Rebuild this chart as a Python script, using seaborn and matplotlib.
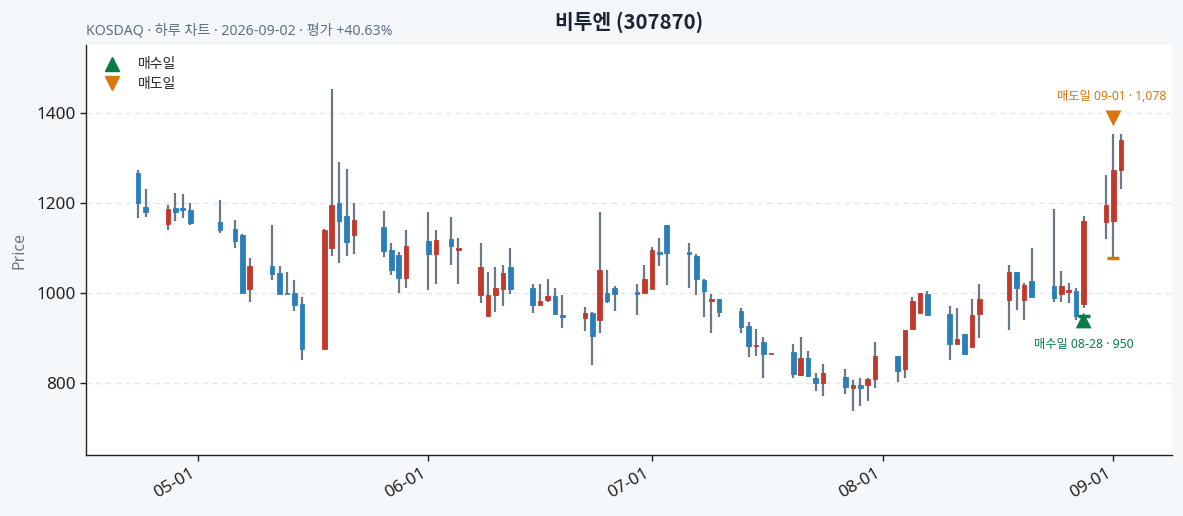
import numpy as np
import pandas as pd
import matplotlib
matplotlib.use("Agg")
import matplotlib.pyplot as plt
import matplotlib.dates as mdates
from matplotlib.lines import Line2D
import seaborn as sns

# ---------------- data ----------------
dates = [
    "2026-04-23", "2026-04-24", "2026-04-27", "2026-04-28", "2026-04-29", "2026-04-30",
    "2026-05-04", "2026-05-06", "2026-05-07", "2026-05-08", "2026-05-11", "2026-05-12",
    "2026-05-13", "2026-05-14", "2026-05-15", "2026-05-18", "2026-05-19", "2026-05-20",
    "2026-05-21", "2026-05-22", "2026-05-26", "2026-05-27", "2026-05-28", "2026-05-29",
    "2026-06-01", "2026-06-02", "2026-06-04", "2026-06-05", "2026-06-08", "2026-06-09",
    "2026-06-10", "2026-06-11", "2026-06-12", "2026-06-15", "2026-06-16", "2026-06-17",
    "2026-06-18", "2026-06-19", "2026-06-22", "2026-06-23", "2026-06-24", "2026-06-25",
    "2026-06-26", "2026-06-29", "2026-06-30", "2026-07-01", "2026-07-02", "2026-07-03",
    "2026-07-06", "2026-07-07", "2026-07-08", "2026-07-09", "2026-07-10", "2026-07-13",
    "2026-07-14", "2026-07-15", "2026-07-16", "2026-07-17", "2026-07-20", "2026-07-21",
    "2026-07-22", "2026-07-23", "2026-07-24", "2026-07-27", "2026-07-28", "2026-07-29",
    "2026-07-30", "2026-07-31", "2026-08-03", "2026-08-04", "2026-08-05", "2026-08-06",
    "2026-08-07", "2026-08-10", "2026-08-11", "2026-08-12", "2026-08-13", "2026-08-14",
    "2026-08-18", "2026-08-19", "2026-08-20", "2026-08-21", "2026-08-24", "2026-08-25",
    "2026-08-26", "2026-08-27", "2026-08-28", "2026-08-31", "2026-09-01", "2026-09-02",
]
open_ = [1268, 1192, 1155, 1190, 1190, 1185,
         1158, 1143, 1130, 1010, 1061, 1046,
         1001, 1000, 976, 877, 1101, 1202,
         1172, 1130, 1147, 1096, 1085, 1035,
         1116, 1088, 1121, 1097, 997, 950,
         997, 1010, 1058, 1012, 975, 986,
         994, 952, 946, 956, 941, 1000,
         1013, 1003, 1002, 1010, 1092, 1152,
         1092, 1083, 1030, 984, 988, 961,
         927, 884, 891, 866, 869, 818,
         856, 812, 801, 814, 790, 796,
         797, 809, 860, 833, 921, 957,
         998, 954, 887, 910, 882, 955,
         986, 1048, 986, 1027, 1016, 999,
         1004, 1005, 976, 1159, 1161, 1275]
high = [1275, 1233, 1196, 1224, 1222, 1202,
        1207, 1164, 1131, 1078, 1153, 1062,
        1047, 1029, 993, 1143, 1455, 1291,
        1276, 1202, 1184, 1111, 1093, 1142,
        1182, 1140, 1169, 1124, 1111, 1047,
        1058, 1064, 1102, 1020, 1022, 1033,
        1013, 996, 969, 959, 1181, 1052,
        1016, 1021, 1064, 1104, 1124, 1153,
        1112, 1087, 1032, 998, 988, 967,
        936, 922, 904, 868, 887, 903,
        873, 824, 844, 832, 807, 813,
        812, 891, 860, 919, 991, 1002,
        1006, 973, 967, 910, 987, 1022,
        1064, 1048, 1024, 1100, 1187, 1050,
        1024, 1013, 1172, 1264, 1355, 1355]
low = [1167, 1169, 1142, 1162, 1167, 1152,
       1135, 1102, 998, 980, 1029, 996,
       998, 962, 853, 876, 1083, 1067,
       1083, 1087, 1082, 1042, 1000, 1012,
       1007, 1022, 1064, 1022, 978, 950,
       958, 973, 998, 956, 971, 980,
       953, 924, 916, 841, 911, 978,
       960, 951, 1002, 1010, 1062, 1018,
       1011, 996, 947, 911, 947, 911,
       858, 861, 813, 865, 812, 817,
       814, 784, 772, 776, 738, 751,
       760, 789, 804, 813, 921, 957,
       953, 853, 887, 865, 882, 900,
       919, 964, 940, 991, 982, 982,
       978, 940, 967, 1120, 1074, 1233]
close = [1200, 1180, 1187, 1181, 1186, 1157,
         1141, 1117, 1000, 1061, 1044, 999,
         999, 975, 877, 1142, 1196, 1161,
         1115, 1163, 1095, 1052, 1035, 1105,
         1088, 1118, 1106, 1102, 1058, 996,
         1012, 1045, 1010, 975, 984, 994,
         955, 947, 956, 906, 1051, 984,
         999, 999, 1031, 1096, 1088, 1090,
         1087, 1032, 1006, 988, 959, 926,
         884, 885, 866, 867, 821, 856,
         817, 801, 823, 793, 796, 790,
         810, 860, 827, 918, 984, 1001,
         953, 887, 898, 865, 952, 987,
         1047, 1011, 1018, 991, 990, 1016,
         1008, 950, 1161, 1196, 1275, 1342]

buy_date, buy_price = "2026-08-28", 950
sell_date, sell_price = "2026-09-01", 1078
trade_labels = ["매수일", "매도일"]
title_text = "비투엔 (307870)"
subtitle_text = "KOSDAQ · 하루 차트 · 2026-09-02 · 평가 +40.63%"

# ---------------- style ----------------
UP = "#c0392b"
DOWN = "#2a7fb8"
WICK = "#6b7887"
BUY = "#0b7a4a"
SELL = "#d9770a"
BG = "#f5f8fb"

sns.set_theme(style="white")
plt.rcParams["font.family"] = ["Noto Sans", "Noto Sans CJK KR", "DejaVu Sans"]
plt.rcParams["axes.unicode_minus"] = False

df = pd.DataFrame({"date": pd.to_datetime(dates), "open": open_, "high": high,
                   "low": low, "close": close})
df["up"] = df["close"] >= df["open"]
df["x"] = mdates.date2num(df["date"])

fig = plt.figure(figsize=(11.83, 5.16), dpi=100, facecolor=BG)
ax = fig.add_axes([0.0727, 0.1182, 0.9183, 0.7946])
ax.set_facecolor("white")

# wicks
ax.vlines(df["x"], df["low"], df["high"], color=WICK, linewidth=1.6, zorder=2)
# bodies
body_bottom = np.minimum(df["open"], df["close"])
body_h = np.maximum(np.abs(df["close"] - df["open"]), 2.5)
colors = np.where(df["up"], UP, DOWN)
ax.bar(df["x"], body_h, bottom=body_bottom, width=0.62, color=colors,
       edgecolor=colors, linewidth=0.6, zorder=3)

# trade markers
bx = mdates.date2num(pd.Timestamp(buy_date))
sx = mdates.date2num(pd.Timestamp(sell_date))
buy_low = df.loc[df["date"] == pd.Timestamp(buy_date), "low"].iloc[0]
sell_high = df.loc[df["date"] == pd.Timestamp(sell_date), "high"].iloc[0]
mk = pd.DataFrame({"x": [bx, sx], "y": [buy_low * 0.972, sell_high * 1.025],
                   "kind": trade_labels})
sns.scatterplot(data=mk, x="x", y="y", hue="kind", style="kind",
                markers={"매수일": "^", "매도일": "v"},
                palette={"매수일": BUY, "매도일": SELL}, s=130,
                edgecolor="none", legend=False, ax=ax, zorder=5)
ax.plot([bx], [buy_price], marker="_", color=BUY, markersize=9, mew=2.5, zorder=4)
ax.plot([sx], [sell_price], marker="_", color=SELL, markersize=9, mew=2.5, zorder=4)

ax.annotate(f"매수일 08-28 · {buy_price:,}", xy=(bx, buy_low * 0.972),
            xytext=(0, -17), textcoords="offset points", ha="center", va="center",
            fontsize=8.8, color=BUY)
ax.annotate(f"매도일 09-01 · {sell_price:,}", xy=(sx, sell_high * 1.025),
            xytext=(-1, 16), textcoords="offset points", ha="center", va="center",
            fontsize=8.8, color=SELL)

# axes
ax.set_xlim(mdates.date2num(pd.Timestamp("2026-04-16")),
            mdates.date2num(pd.Timestamp("2026-09-08 22:00")))
ax.set_ylim(641, 1552)
ax.set_yticks([800, 1000, 1200, 1400])
ax.xaxis.set_major_locator(mdates.MonthLocator())
ax.xaxis.set_major_formatter(mdates.DateFormatter("%m-%d"))
ax.tick_params(axis="both", labelsize=12.3, colors="#222222", length=4, width=1,
               bottom=True, left=True)
plt.setp(ax.get_xticklabels(), rotation=30, ha="right")
ax.grid(axis="y", linestyle=(0, (4, 3)), color="#e4e7eb", linewidth=1)
ax.set_axisbelow(True)
for s in ["top", "right"]:
    ax.spines[s].set_visible(False)
for s in ["left", "bottom"]:
    ax.spines[s].set_color("#222222")
    ax.spines[s].set_linewidth(1)
ax.set_xlabel("")
ax.set_ylabel("Price", fontsize=11.5, color="#6b7887", labelpad=6)

handles = [Line2D([], [], marker="^", color=BUY, linestyle="none", markersize=10),
           Line2D([], [], marker="v", color=SELL, linestyle="none", markersize=10)]
ax.legend(handles, trade_labels, loc="upper left", frameon=False, fontsize=10,
          handletextpad=0.8, labelspacing=0.3, borderaxespad=0.5)

fig.text(0.5317, 0.957, title_text, ha="center", va="center", fontsize=14.7,
         fontweight="bold", color="#1a2433", family=["Noto Sans CJK KR", "DejaVu Sans"])
fig.text(0.0727, 0.939, subtitle_text, ha="left", va="center", fontsize=10.2,
         color="#5f6f82")

fig.savefig("out.png", dpi=100, facecolor=BG)
